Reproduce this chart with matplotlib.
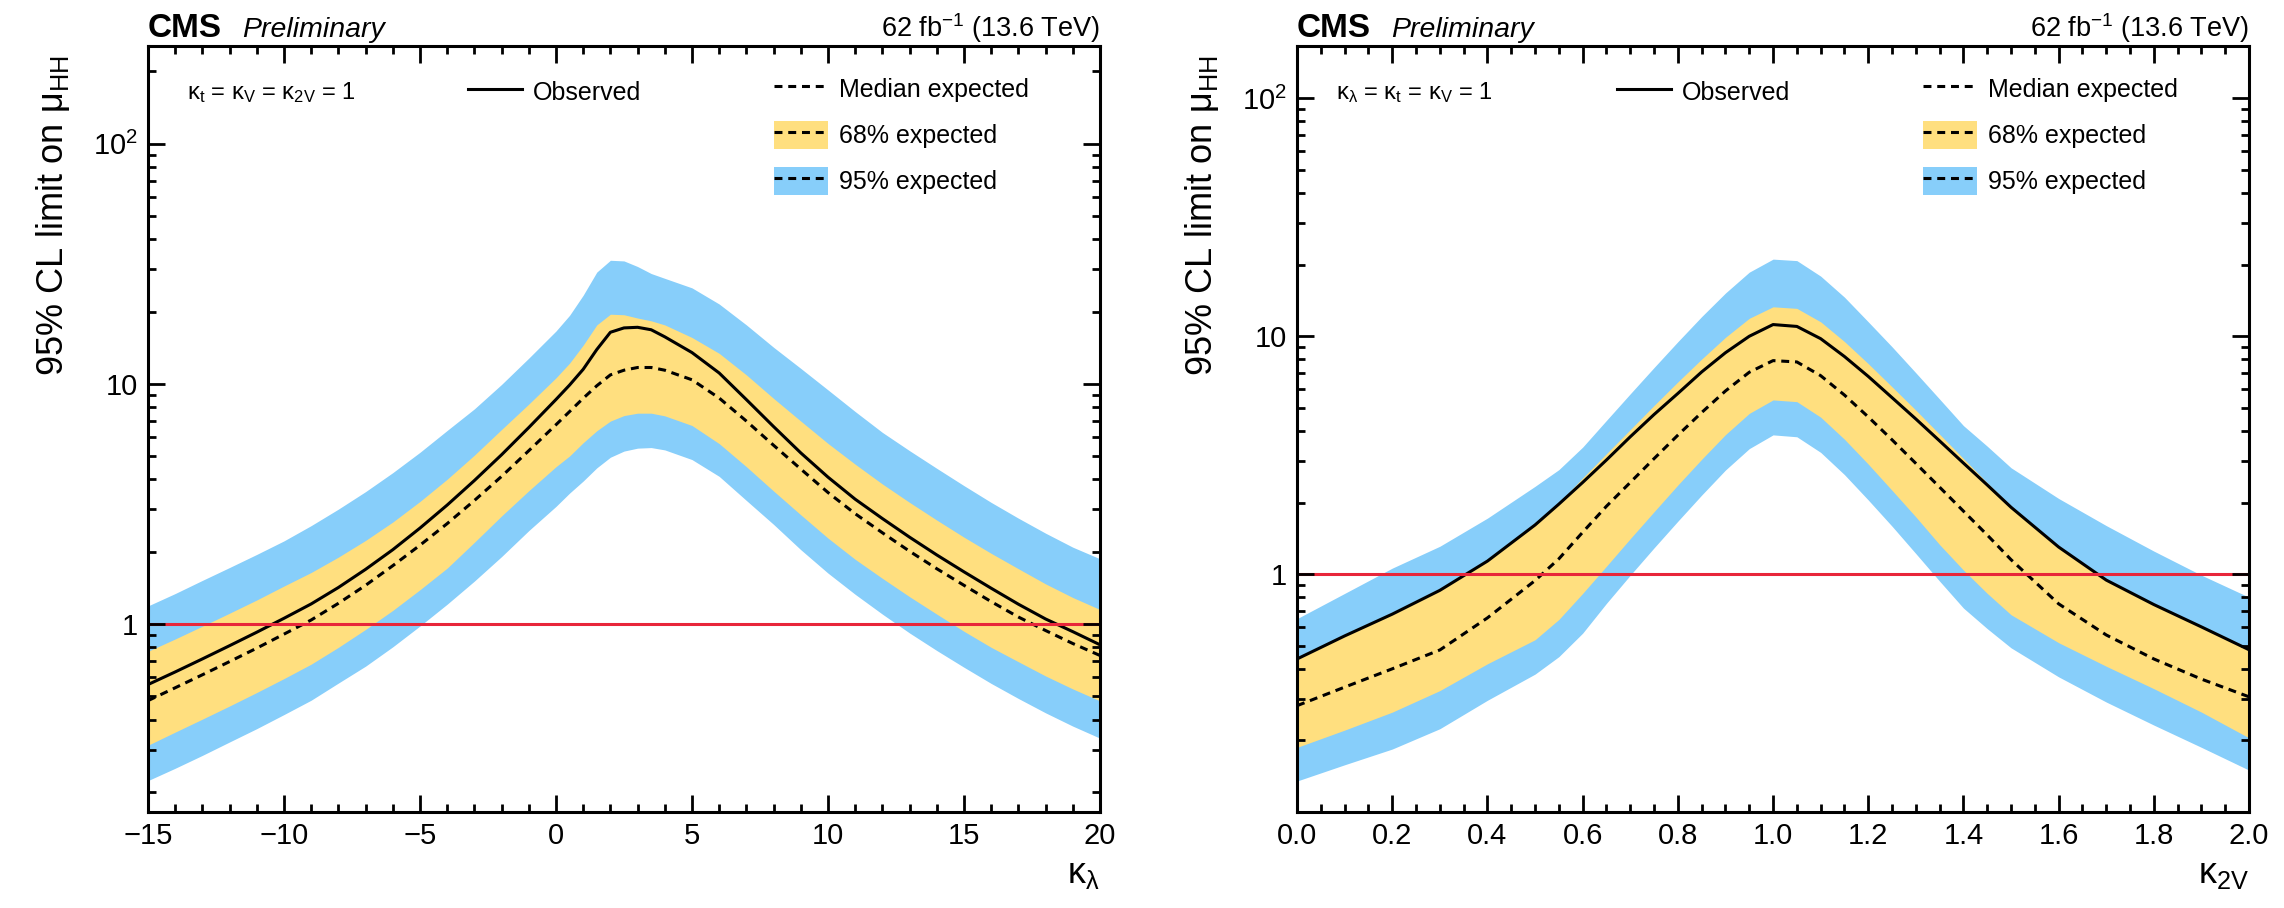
import matplotlib
matplotlib.use('Agg')
import matplotlib.pyplot as plt
import matplotlib.ticker as ticker
from matplotlib.patches import Patch
from matplotlib.lines import Line2D

plt.rcParams['font.family'] = ['Liberation Sans', 'DejaVu Sans']
plt.rcParams['mathtext.fontset'] = 'custom'
plt.rcParams['mathtext.rm'] = 'Liberation Sans'
plt.rcParams['mathtext.it'] = 'Liberation Sans:italic'
plt.rcParams['mathtext.bf'] = 'Liberation Sans:bold'
plt.rcParams['mathtext.default'] = 'regular'

# kappa_lambda scan (k_t = k_V = k_2V = 1)
kl = [-15, -14, -13, -12, -11, -10, -9, -8, -7, -6, -5, -4, -3, -2, -1,
      0, 0.5, 1, 1.5, 2, 2.5, 3, 3.5, 4,
      5, 6, 7, 8, 9, 10, 11, 12, 13, 14, 15, 16, 17, 18, 19, 20]
kl_obs = [0.56, 0.632, 0.716, 0.813, 0.925, 1.057, 1.213, 1.42, 1.69, 2.04, 2.51, 3.13, 3.96, 5.07, 6.58,
          8.61, 9.89, 11.5, 13.9, 16.4, 17.1, 17.2, 16.8, 15.7,
          13.5, 11.1, 8.6, 6.64, 5.16, 4.09, 3.31, 2.75, 2.30, 1.94, 1.65, 1.41, 1.21, 1.05, 0.93, 0.82]
kl_exp = [0.48, 0.543, 0.615, 0.698, 0.794, 0.908, 1.04, 1.22, 1.45, 1.75, 2.13, 2.62, 3.27, 4.12, 5.27,
          6.76, 7.67, 8.71, 9.82, 10.9, 11.4, 11.7, 11.7, 11.4,
          10.4, 8.73, 7.0, 5.55, 4.42, 3.53, 2.88, 2.40, 2.01, 1.70, 1.45, 1.24, 1.07, 0.94, 0.83, 0.74]
kl_up1 = [0.77, 0.867, 0.98, 1.11, 1.26, 1.44, 1.64, 1.90, 2.23, 2.66, 3.24, 4.01, 5.05, 6.46, 8.24,
          10.6, 12.2, 14.5, 17.6, 19.5, 19.4, 18.8, 18.3, 17.6,
          15.6, 13.4, 10.9, 8.7, 7.0, 5.65, 4.63, 3.83, 3.21, 2.71, 2.30, 1.97, 1.70, 1.47, 1.29, 1.15]
kl_dn1 = [0.313, 0.355, 0.402, 0.456, 0.519, 0.593, 0.681, 0.80, 0.95, 1.14, 1.39, 1.71, 2.19, 2.82, 3.59,
          4.52, 5.01, 5.69, 6.38, 7.0, 7.38, 7.55, 7.55, 7.36,
          6.71, 5.64, 4.52, 3.58, 2.85, 2.28, 1.86, 1.55, 1.30, 1.10, 0.933, 0.80, 0.697, 0.608, 0.537, 0.479]
kl_up2 = [1.19, 1.34, 1.52, 1.72, 1.95, 2.22, 2.57, 3.01, 3.56, 4.27, 5.19, 6.4, 7.87, 9.95, 12.8,
          16.6, 19.3, 23.4, 29.2, 32.7, 32.5, 30.8, 28.8, 27.5,
          25.1, 21.5, 17.6, 14.2, 11.6, 9.44, 7.67, 6.28, 5.27, 4.45, 3.77, 3.21, 2.76, 2.39, 2.09, 1.87]
kl_dn2 = [0.223, 0.251, 0.284, 0.323, 0.367, 0.42, 0.482, 0.568, 0.668, 0.804, 0.982, 1.21, 1.51, 1.91, 2.45,
          3.09, 3.51, 3.94, 4.47, 4.95, 5.25, 5.40, 5.43, 5.31,
          4.84, 4.12, 3.27, 2.60, 2.04, 1.63, 1.33, 1.10, 0.918, 0.776, 0.661, 0.566, 0.49, 0.427, 0.376, 0.335]

# kappa_2V scan (k_lambda = k_t = k_V = 1)
k2v = [0.0, 0.1, 0.2, 0.3, 0.4, 0.5,
       0.55, 0.6, 0.65, 0.7, 0.75, 0.8, 0.85, 0.9, 0.95, 1.0,
       1.05, 1.1, 1.15, 1.2, 1.25, 1.3, 1.35, 1.4, 1.45, 1.5,
       1.6, 1.7, 1.8, 1.9, 2.0]
k2v_obs = [0.44, 0.55, 0.679, 0.855, 1.135, 1.61,
           1.97, 2.43, 3.02, 3.78, 4.69, 5.75, 7.08, 8.53, 10.0, 11.2,
           11.0, 9.77, 8.22, 6.78, 5.52, 4.49, 3.63, 2.93, 2.37, 1.91,
           1.30, 0.944, 0.745, 0.60, 0.481]
k2v_exp = [0.28, 0.335, 0.40, 0.48, 0.655, 0.94,
           1.16, 1.50, 1.93, 2.43, 3.06, 3.84, 4.78, 5.89, 7.06, 7.9,
           7.8, 6.83, 5.66, 4.58, 3.67, 2.92, 2.32, 1.84, 1.46, 1.15,
           0.75, 0.555, 0.44, 0.362, 0.305]
k2v_up1 = [0.44, 0.551, 0.68, 0.857, 1.14, 1.63,
           1.99, 2.54, 3.21, 4.05, 5.12, 6.43, 8.02, 9.9, 11.9, 13.3,
           13.1, 11.5, 9.5, 7.67, 6.13, 4.89, 3.87, 3.06, 2.42, 1.93,
           1.31, 0.95, 0.75, 0.605, 0.485]
k2v_dn1 = [0.187, 0.221, 0.263, 0.324, 0.42, 0.53,
           0.645, 0.83, 1.08, 1.41, 1.83, 2.37, 3.04, 3.86, 4.74, 5.4,
           5.31, 4.57, 3.69, 2.90, 2.25, 1.74, 1.33, 1.04, 0.83, 0.675,
           0.515, 0.41, 0.33, 0.263, 0.205]
k2v_up2 = [0.65, 0.83, 1.06, 1.31, 1.72, 2.34,
           2.75, 3.42, 4.43, 5.73, 7.39, 9.49, 12.1, 15.2, 18.6, 21.1,
           20.8, 17.9, 14.6, 11.5, 9.03, 7.02, 5.44, 4.21, 3.45, 2.80,
           2.08, 1.60, 1.25, 0.99, 0.80]
k2v_dn2 = [0.135, 0.158, 0.184, 0.224, 0.295, 0.38,
           0.45, 0.565, 0.754, 0.99, 1.29, 1.67, 2.15, 2.74, 3.37, 3.85,
           3.78, 3.25, 2.62, 2.05, 1.59, 1.22, 0.934, 0.72, 0.59, 0.49,
           0.37, 0.29, 0.232, 0.187, 0.15]

blue = '#87CEFA'
yellow = '#FFDF7F'
red = '#E8263A'
dash = (0, (2.6, 1.9))


def makePlot(ax, x, obs, exp, up1, dn1, up2, dn2, ylim, xlabel, note, xmajor, xminor, xfmt):

    ax.fill_between(x, dn2, up2, color=blue, lw=0, zorder=1)
    ax.fill_between(x, dn1, up1, color=yellow, lw=0, zorder=1.1)
    ax.plot(x, exp, color='black', lw=2.2, ls=dash, zorder=2.1)
    ax.plot(x, obs, color='black', lw=2.2, zorder=2.2)
    ax.axhline(1, color=red, lw=2.2, zorder=2.3)

    ax.set_yscale('log')
    ax.set_xlim(x[0], x[-1])
    ax.set_ylim(ylim)
    ax.set_axisbelow(False)

    ax.yaxis.set_major_locator(ticker.FixedLocator([1, 10, 100]))
    ax.yaxis.set_major_formatter(ticker.FixedFormatter(['1', '10', '$10^{2}$']))
    ax.yaxis.set_minor_locator(ticker.LogLocator(base=10, subs=range(2, 10), numticks=20))
    ax.yaxis.set_minor_formatter(ticker.NullFormatter())
    ax.xaxis.set_major_locator(ticker.MultipleLocator(xmajor))
    ax.xaxis.set_minor_locator(ticker.MultipleLocator(xminor))
    ax.xaxis.set_major_formatter(ticker.StrMethodFormatter(xfmt))

    ax.tick_params(which='both', direction='in', top=True, right=True, width=2, labelsize=21, pad=7)
    ax.tick_params(which='major', length=12)
    ax.tick_params(which='minor', length=6)
    for s in ax.spines.values():
        s.set_linewidth(2.2)

    ax.set_ylabel('95% CL limit on μ$_{HH}$', fontsize=26, loc='top')
    ax.yaxis.set_label_coords(-0.08, 0.988)
    ax.set_xlabel(xlabel, fontsize=26, loc='right')
    ax.xaxis.set_label_coords(1.0, -0.058)

    ax.text(0, 1.0117, 'CMS', transform=ax.transAxes, fontsize=24, fontweight='bold', va='baseline')
    ax.text(0.0987, 1.0117, 'Preliminary', transform=ax.transAxes, fontsize=20.5, style='italic', va='baseline')
    ax.text(1, 1.0117, '62 fb$^{-1}$ (13.6 TeV)', transform=ax.transAxes, fontsize=19.5, ha='right', va='baseline')

    ax.text(0.041, 0.9305, note, transform=ax.transAxes, fontsize=17, va='baseline')

    h_obs = Line2D([], [], color='black', lw=2.2)
    h_exp = Line2D([], [], color='black', lw=2.2, ls=dash)
    h_68 = (Patch(facecolor=yellow, lw=0), h_exp)
    h_95 = (Patch(facecolor=blue, lw=0), h_exp)

    leg1 = ax.legend([h_obs], ['Observed'], loc='center left', bbox_to_anchor=(0.336, 0.9405),
                     frameon=False, fontsize=18, handlelength=2.16, handleheight=1.32,
                     handletextpad=0.45, borderpad=0, borderaxespad=0)
    ax.add_artist(leg1)
    ax.legend([h_exp, h_68, h_95], ['Median expected', '68% expected', '95% expected'],
              loc='upper left', bbox_to_anchor=(0.6576, 0.9620), frameon=False, fontsize=18,
              handlelength=2.16, handleheight=1.32, handletextpad=0.45, labelspacing=0.74,
              borderpad=0, borderaxespad=0)


fig = plt.figure(figsize=(22.84, 9.08), dpi=100)
axL = fig.add_axes([0.0648, 0.1057, 0.4168, 0.8436])
axR = fig.add_axes([0.5679, 0.1057, 0.4168, 0.8436])

makePlot(axL, kl, kl_obs, kl_exp, kl_up1, kl_dn1, kl_up2, kl_dn2, (0.165, 255),
         'κ$_{λ}$', 'κ$_{t}$ = κ$_{V}$ = κ$_{2V}$ = 1', 5, 1, '{x:.0f}')
makePlot(axR, k2v, k2v_obs, k2v_exp, k2v_up1, k2v_dn1, k2v_up2, k2v_dn2, (0.1, 166),
         'κ$_{2V}$', 'κ$_{λ}$ = κ$_{t}$ = κ$_{V}$ = 1', 0.2, 0.05, '{x:.1f}')

plt.savefig('out.png', dpi=100)
